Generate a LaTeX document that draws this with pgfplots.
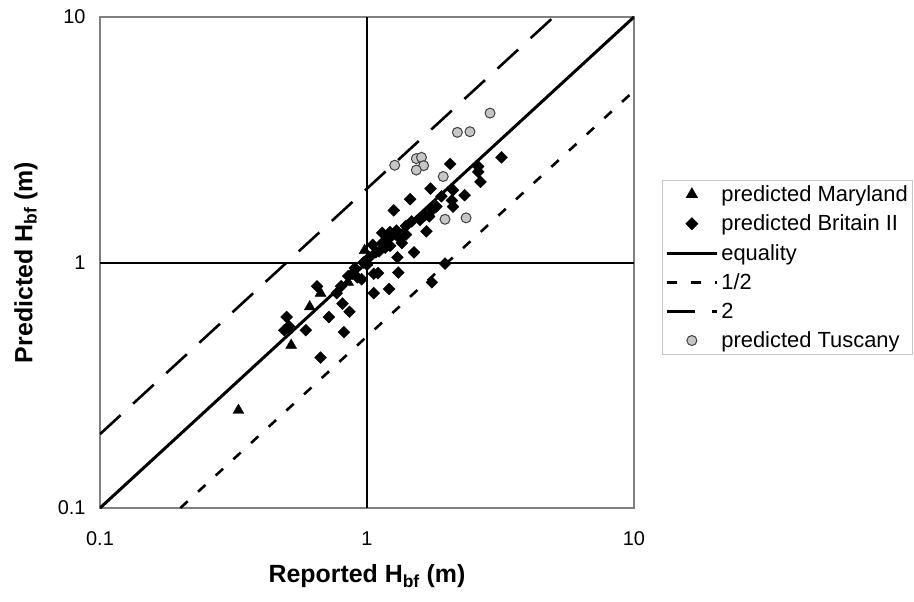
\documentclass[border=0pt]{standalone}
\usepackage{pgfplots}
\pgfplotsset{compat=1.18}
\usepackage{fontspec}
\setmainfont{Liberation Sans}

\pgfplotsset{
  linelegend/.style={legend image code/.code={\draw[##1] (0bp,0bp) -- (50bp,0bp);}},
  marklegend/.style={legend image code/.code={\draw[mark repeat=2,mark phase=2,##1] plot coordinates {(0bp,0bp) (25bp,0bp) (50bp,0bp)};}},
}

\begin{document}
\begin{tikzpicture}
\useasboundingbox (-100bp,-94bp) rectangle (814bp,508bp);
\begin{axis}[
  at={(0,0)}, anchor=south west,
  scale only axis, width=534bp, height=491bp,
  xmode=log, ymode=log,
  xmin=0.1, xmax=10, ymin=0.1, ymax=10,
  xtick={0.1,1,10}, xticklabels={0.1,1,10},
  ytick={0.1,1,10}, yticklabels={0.1,1,10},
  xminorticks=false, yminorticks=false,
  tick style={draw=none},
  axis line style={draw=gray, line width=1.8bp},
  ticklabel style={font=\fontsize{20}{23}\selectfont},
  xticklabel style={yshift=-20bp},
  yticklabel style={xshift=-11bp},
  xlabel={Reported H\textsubscript{bf} (m)},
  ylabel={Predicted H\textsubscript{bf} (m)},
  label style={font=\bfseries\fontsize{25}{28}\selectfont},
  x label style={at={(axis description cs:0.5,-0.1527)}, anchor=base},
  y label style={at={(axis description cs:-0.1386,0.5)}, anchor=center},
  clip=true,
  legend style={at={(1.0524,0.49)}, anchor=west, draw=gray!45, line width=0.8bp,
    font=\fontsize{22}{26}\selectfont, inner xsep=3bp, inner ysep=3bp,
    row sep=8bp, column sep=1bp},
  legend cell align=left,
]
% reference lines through 1 m
\addplot[black, line width=2bp, forget plot] coordinates {(1,0.1) (1,10)};
\addplot[black, line width=2bp, forget plot] coordinates {(0.1,1) (10,1)};

% Maryland
\addplot[marklegend, only marks, mark=triangle*, mark size=6.3bp, black] coordinates {
  (0.33,0.25) (0.52,0.46) (0.50,0.53) (0.61,0.66) (0.67,0.75)
  (0.85,0.83) (0.98,1.12) (1.00,1.00)
};
\addlegendentry{predicted Maryland}

% Britain II
\addplot[marklegend, only marks, mark=square*, mark size=4.2bp, black, mark options={rotate=45}] coordinates {
  (0.50,0.60) (0.49,0.53) (0.51,0.55) (0.59,0.53) (0.65,0.80)
  (0.67,0.41) (0.72,0.60) (0.77,0.75) (0.81,0.68) (0.86,0.63)
  (0.82,0.52) (0.80,0.80) (0.85,0.88) (0.88,0.90) (0.90,0.95)
  (0.92,0.87) (0.955,0.855) (0.97,1.00) (1.00,0.98) (1.02,1.05)
  (1.05,1.18) (1.06,0.90) (1.10,0.905) (1.06,0.75) (1.21,0.78)
  (1.31,0.91) (1.08,1.10) (1.11,1.11) (1.14,1.20) (1.17,1.15)
  (1.20,1.25) (1.22,1.17) (1.25,1.30) (1.14,1.32) (1.22,1.33)
  (1.29,1.35) (1.33,1.25) (1.35,1.20) (1.40,1.41) (1.47,1.47)
  (1.50,1.10) (1.58,1.49) (1.65,1.56) (1.71,1.54) (1.62,1.54)
  (1.67,1.34) (1.76,1.64) (1.82,1.69) (1.26,1.63) (1.45,1.81)
  (1.73,2.00) (1.90,1.86) (2.10,1.97) (2.08,1.79) (2.10,1.69)
  (2.32,1.88) (2.05,2.52) (2.61,2.46) (2.61,2.34) (2.66,2.13)
  (3.19,2.68) (1.96,0.99) (1.75,0.83) (1.30,1.05) (1.40,1.30)
};
\addlegendentry{predicted Britain II}

% equality and factor-of-two bounds
\addplot[linelegend, black, line width=3bp] coordinates {(0.1,0.1) (10,10)};
\addlegendentry{equality}
\addplot[linelegend, black, line width=2.6bp, dash pattern=on 10bp off 14bp] coordinates {(0.2,0.1) (10,5)};
\addlegendentry{1/2}
\addplot[linelegend, black, line width=2.6bp, dash pattern=on 28bp off 17bp] coordinates {(0.1,0.2) (5,10)};
\addlegendentry{2}

% Tuscany
\addplot[marklegend, only marks, mark=*, mark size=5bp, draw=black!75, fill=gray!45, line width=1bp] coordinates {
  (2.89,4.06) (2.18,3.39) (2.43,3.41) (1.27,2.49) (1.53,2.65)
  (1.60,2.68) (1.63,2.48) (1.53,2.38) (1.93,2.24) (1.96,1.50)
  (2.35,1.52)
};
\addlegendentry{predicted Tuscany}
\end{axis}
\end{tikzpicture}
\end{document}
